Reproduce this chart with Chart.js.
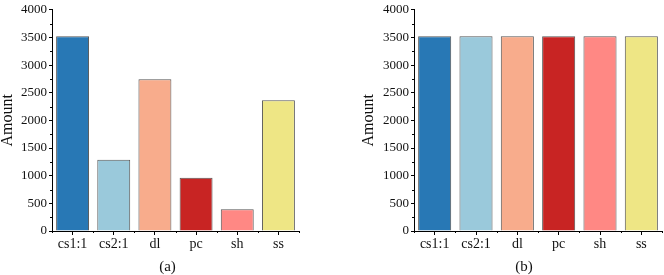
<!DOCTYPE html>
<html>
<head>
<meta charset="utf-8">
<script src="https://cdn.jsdelivr.net/npm/chart.js@4.4.1/dist/chart.umd.min.js"></script>
<style>
  html, body { margin: 0; padding: 0; background: #fff; }
  #wrap { position: relative; width: 664px; height: 275px; }
  .pane { position: absolute; top: 0; height: 275px; }
</style>
</head>
<body>
<div id="wrap">
  <div class="pane" style="left:0;width:332px"><canvas id="ca"></canvas></div>
  <div class="pane" style="left:332px;width:332px"><canvas id="cb"></canvas></div>
</div>
<script>
const categories = ['cs1:1', 'cs2:1', 'dl', 'pc', 'sh', 'ss'];
const valuesA = [3520, 1290, 2745, 965, 395, 2365];
const valuesB = [3520, 3520, 3520, 3520, 3520, 3520];
const barColors = ['#2878B5', '#9AC9DB', '#F8AC8C', '#C82423', '#FF8884', '#EEE685'];
const yMax = 4000;
const yStep = 500;
const yMinorStep = 250;
const captions = ['(a)', '(b)'];
const yTitle = 'Amount';

const serif = "'Liberation Serif', 'Times New Roman', serif";

const minorTicks = {
  id: 'minorTicks',
  afterDraw(chart, args, opts) {
    const ctx = chart.ctx;
    const y = chart.scales.y, x = chart.scales.x;
    ctx.save();
    ctx.strokeStyle = '#000';
    ctx.lineWidth = 1;
    ctx.beginPath();
    for (let v = yMinorStep; v < yMax; v += yStep) {
      const py = Math.round(y.getPixelForValue(v)) + 0.5;
      ctx.moveTo(y.right, py); ctx.lineTo(y.right - 2, py);
    }
    for (let i = 0; i <= categories.length; i++) {
      const px = Math.round(x.getPixelForValue(i - 0.5)) + 0.5;
      ctx.moveTo(px, x.top); ctx.lineTo(px, x.top + 2);
    }
    ctx.stroke();
    ctx.fillStyle = '#111';
    ctx.font = '15px ' + serif;
    ctx.textAlign = 'center';
    ctx.textBaseline = 'middle';
    const cx = (chart.chartArea.left + chart.chartArea.right) / 2 + opts.dx;
    ctx.fillText(opts.text, cx, opts.y);
    ctx.restore();
  }
};

function makeChart(id, values, yWidth, titlePad, padRight, caption, dx) {
  return new Chart(document.getElementById(id), {
    type: 'bar',
    data: {
      labels: categories,
      datasets: [{
        data: values,
        backgroundColor: barColors,
        borderColor: '#555',
        borderWidth: 1,
        barPercentage: 0.8,
        categoryPercentage: 1.0
      }]
    },
    options: {
      responsive: true,
      maintainAspectRatio: false,
      animation: false,
      devicePixelRatio: 1,
      layout: { padding: { top: 5, right: padRight, bottom: 0, left: 0 } },
      plugins: {
        legend: { display: false },
        tooltip: { enabled: false },
        minorTicks: { text: caption, dx: dx, y: 267 }
      },
      scales: {
        x: {
          afterFit: s => { s.height = 44; },
          grid: { display: true, drawOnChartArea: false, drawTicks: true, tickLength: 4, offset: false, color: '#000' },
          border: { display: true, color: '#000', width: 1 },
          ticks: { color: '#111', font: { family: serif, size: 14 }, padding: 1, maxRotation: 0 }
        },
        y: {
          min: 0, max: yMax,
          afterFit: s => { s.width = yWidth; },
          grid: { display: true, drawOnChartArea: false, drawTicks: true, tickLength: 3, color: '#000' },
          border: { display: true, color: '#000', width: 1 },
          ticks: { stepSize: yStep, color: '#111', font: { family: serif, size: 13 }, padding: 2,
                   callback: v => String(v) },
          title: { display: true, text: yTitle, color: '#111', font: { family: serif, size: 16, lineHeight: 1 }, padding: { top: titlePad, bottom: 0 } }
        }
      }
    },
    plugins: [minorTicks]
  });
}

makeChart('ca', valuesA, 52, 0, 33, captions[0], -8);
makeChart('cb', valuesB, 82, 29, 2, captions[1], -14);
</script>
</body>
</html>
